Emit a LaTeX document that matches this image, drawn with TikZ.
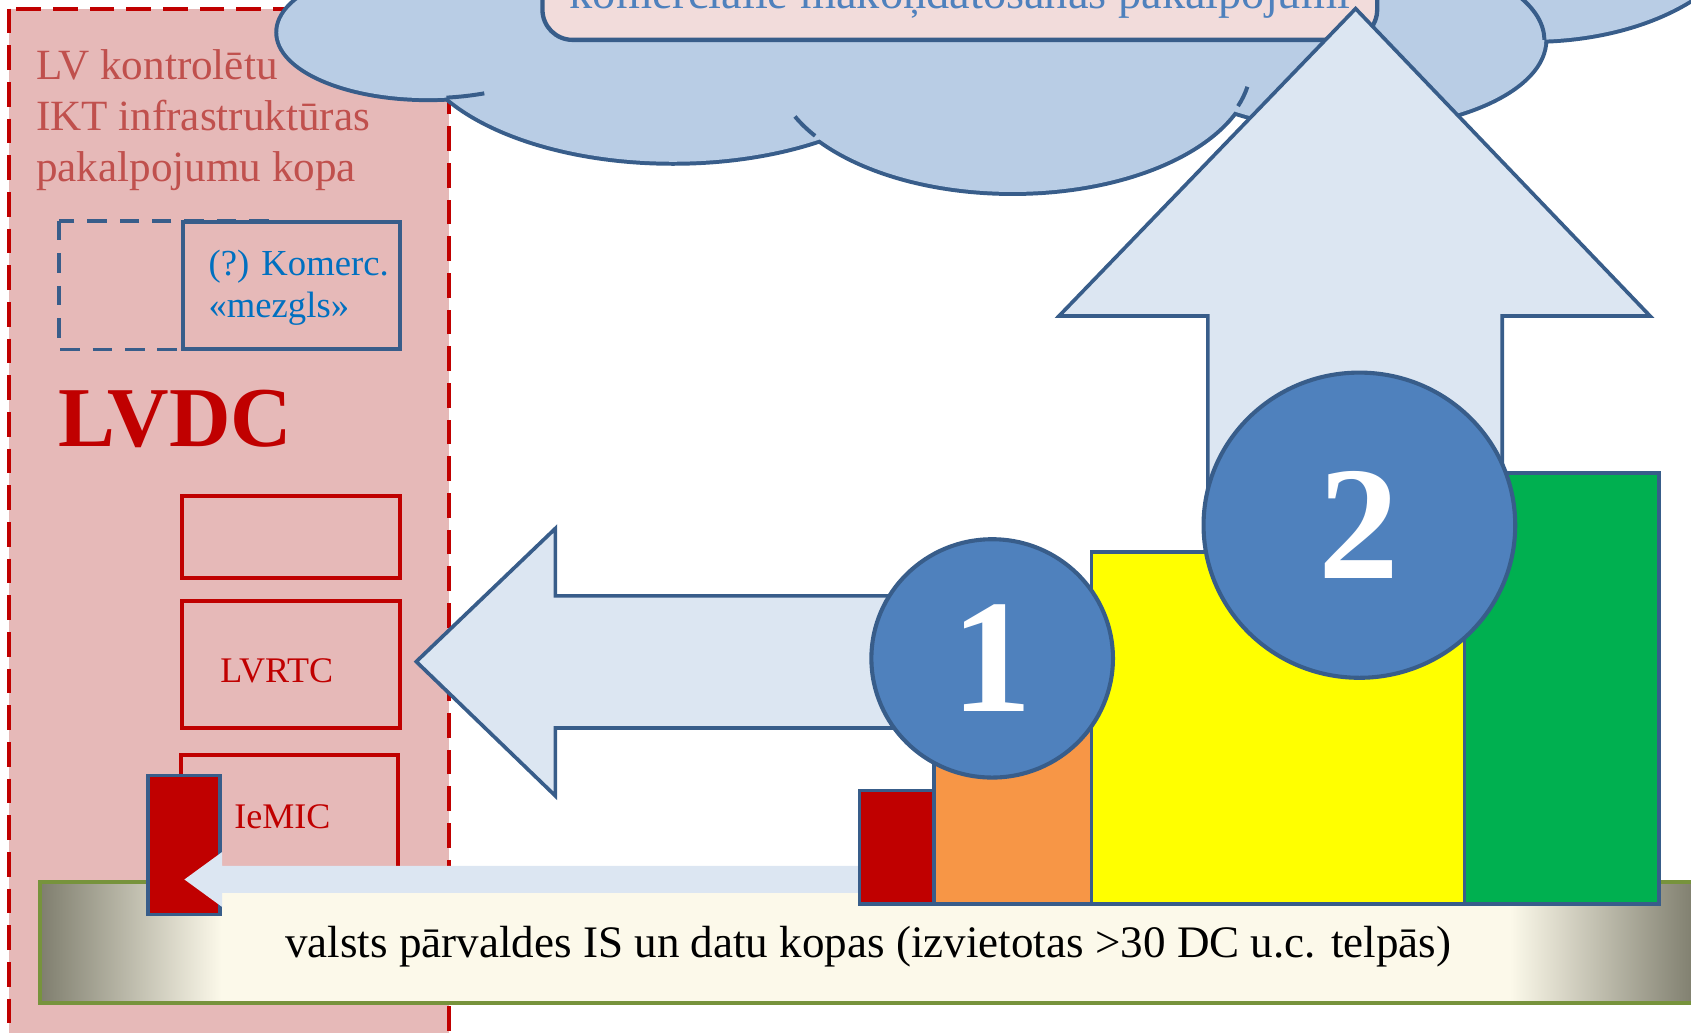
\documentclass[tikz,border=0pt]{standalone}
\usepackage{fontspec}
\setmainfont{Liberation Serif}
\usetikzlibrary{shapes.geometric}
\definecolor{pinkfill}{HTML}{E6B9B8}
\definecolor{dashred}{HTML}{C00000}
\definecolor{lvtext}{HTML}{C0504D}
\definecolor{bordblue}{HTML}{385D8A}
\definecolor{arrowblue}{HTML}{DCE6F2}
\definecolor{cloudblue}{HTML}{B9CDE5}
\definecolor{rrpink}{HTML}{F2DCDB}
\definecolor{cloudtext}{HTML}{4F81BD}
\definecolor{badgeblue}{HTML}{4F81BD}
\definecolor{komerctext}{HTML}{0070C0}
\definecolor{barorange}{HTML}{F79646}
\definecolor{baryellow}{HTML}{FFFF00}
\definecolor{bargreen}{HTML}{00B050}
\definecolor{barolive}{HTML}{77933C}
\definecolor{bardark}{HTML}{7F7E6E}
\definecolor{barcream}{HTML}{FCF9EA}
\begin{document}
\begin{tikzpicture}%
	[x=0.5pt, y=-0.5pt,
	label/.style={anchor=base west, inner sep=0pt},
	lobe/.style={fill=cloudblue, draw=bordblue, line width=3.7pt},
	lobefill/.style={fill=cloudblue},
	innerarc/.style={draw=bordblue, line width=1.85pt},
	blockarrow/.style={fill=arrowblue, draw=bordblue, line width=1.7pt, line join=miter},
	redbox/.style={fill=pinkfill, draw=dashred, line width=1.7pt},
	bluebox/.style={fill=pinkfill, draw=bordblue, line width=1.9pt},
	bar/.style={draw=bordblue, line width=1.7pt},
	badge/.style={ellipse, fill=badgeblue, draw=bordblue, line width=1.9pt, inner sep=0pt,
		text=white, font=\fontsize{75}{75}\selectfont\bfseries}]
\path[use as bounding box, clip] (0,0) rectangle (1568,957);
%%
%% Drawing the LV region
%%
\draw[fill=pinkfill, draw=dashred, line width=1.9pt, dash pattern=on 11.5pt off 5.5pt] (8,8) rectangle (416,975);
\node[label, text=lvtext, font=\fontsize{20}{24}\selectfont] (lvline1) at (33,74) {LV kontrolētu};
\node[label, text=lvtext, font=\fontsize{20}{24}\selectfont] (lvline2) at (33,121) {IKT infrastruktūras};
\node[label, text=lvtext, font=\fontsize{20}{24}\selectfont] (lvline3) at (33,168) {pakalpojumu kopa};
\draw[draw=bordblue, line width=1.7pt, dash pattern=on 9pt off 6pt] (55,205) rectangle (258,324);
\draw[bluebox] (170,206) rectangle (371,324);
\node[label, text=komerctext, font=\fontsize{17}{20}\selectfont] (komerc1) at (193,255) {(?) Komerc.};
\node[label, text=komerctext, font=\fontsize{17}{20}\selectfont] (komerc2) at (193,294) {«mezgls»};
\node[label, text=dashred, font=\fontsize{39.5}{40}\selectfont\bfseries] (lvdc) at (54,414) {LVDC};
\draw[redbox] (169,460) rectangle (371,536);
\draw[redbox] (169,557) rectangle (371,675);
\node[label, text=dashred, font=\fontsize{16.7}{20}\selectfont] (lvrtc) at (204,633) {LVRTC};
\draw[redbox] (168,700) rectangle (369,860);
\node[label, text=dashred, font=\fontsize{16.7}{20}\selectfont] (iemic) at (217,768) {IeMIC};
%%
%% Drawing the cloud
%%
\draw[lobe] (397,30) ellipse [x radius=139, y radius=61];
\draw[lobe] (624,30) ellipse [x radius=242, y radius=120];
\draw[lobe] (939,60) ellipse [x radius=221, y radius=118];
\draw[lobe] (1251,37) ellipse [x radius=181, y radius=82];
\draw[lobe] (1420,-80) ellipse [x radius=201, y radius=117];
\fill[lobefill] (397,30) ellipse [x radius=139, y radius=61];
\fill[lobefill] (624,30) ellipse [x radius=242, y radius=120];
\fill[lobefill] (939,60) ellipse [x radius=221, y radius=118];
\fill[lobefill] (1251,37) ellipse [x radius=181, y radius=82];
\fill[lobefill] (1420,-80) ellipse [x radius=201, y radius=117];
\draw[innerarc] ([shift={(83:139 and 61)}]397,30) arc [start angle=83, end angle=68, x radius=139, y radius=61];
\draw[innerarc] ([shift={(146:221 and 118)}]939,60) arc [start angle=146, end angle=156, x radius=221, y radius=118];
\draw[innerarc] ([shift={(19:221 and 118)}]939,60) arc [start angle=19, end angle=10, x radius=221, y radius=118];
\draw[innerarc] ([shift={(0:181 and 82)}]1251,37) arc [start angle=0, end angle=-35, x radius=181, y radius=82];
\draw[fill=rrpink, draw=bordblue, line width=2pt, rounded corners=14pt] (503,-60) rectangle (1277,37);
\node[anchor=base, inner sep=0pt, text=cloudtext, font=\fontsize{21.5}{24}\selectfont] (cloudlabel) at (890,8) {komerciālie mākoņdatošanas pakalpojumi};
%%
%% Drawing the block arrows
%%
\draw[blockarrow] (1257,8) -- (1530,293) -- (1393,293) -- (1393,560) -- (1120,560) -- (1120,293) -- (982,293) -- cycle;
\draw[blockarrow] (386,613.5) -- (515,490) -- (515,552.5) -- (860,552.5) -- (860,675) -- (515,675) -- (515,738) -- cycle;
%%
%% Drawing the IS bar
%%
\shade[left color=bardark, right color=barcream] (37,818) rectangle (206,930);
\fill[barcream] (205,818) rectangle (1401,930);
\shade[left color=barcream, right color=bardark] (1400,818) rectangle (1572,930);
\draw[draw=barolive, line width=2pt] (37,818) rectangle (1600,930);
\node[anchor=base, inner sep=0pt, font=\fontsize{20.9}{24}\selectfont] (isbar) at (805,888) {valsts pārvaldes IS un datu kopas (izvietotas >30 DC u.c. telpās)};
\draw[bar, fill=dashred] (137,719) rectangle (204,848);
\fill[arrowblue] (171,815.5) -- (206,790) -- (206,803) -- (797,803) -- (797,828) -- (206,828) -- (206,841) -- cycle;
%%
%% Drawing the DC bars
%%
\draw[bar, fill=dashred] (797,733) rectangle (866,838);
\draw[bar, fill=barorange] (866,640) rectangle (1012,838);
\draw[bar, fill=baryellow] (1012,512) rectangle (1358,838);
\draw[bar, fill=bargreen] (1358,438.5) rectangle (1538,838);
%%
%% Drawing the numbered badges
%%
\node[badge, minimum width=112pt, minimum height=110.5pt] (stepone) at (920,610.5) {1};
\node[badge, minimum width=144.5pt, minimum height=141.5pt] (steptwo) at (1260.5,487) {2};
%%
\end{tikzpicture}
\end{document}
